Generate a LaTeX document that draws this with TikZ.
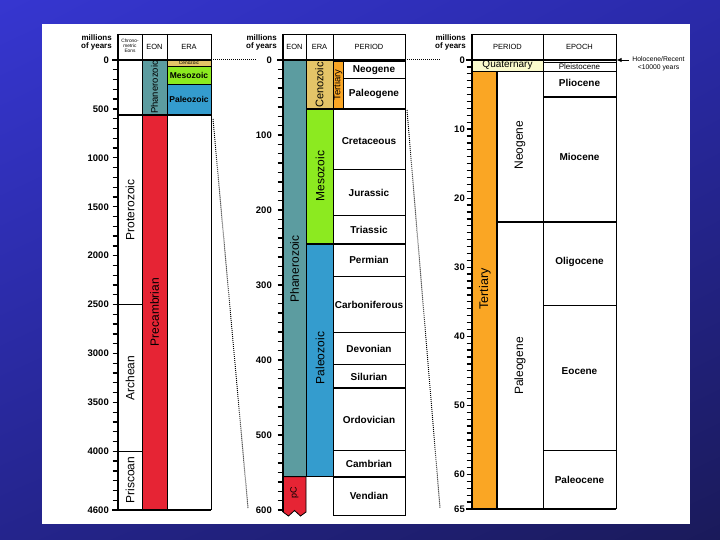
\documentclass[tikz,border=0pt]{standalone}
\usepackage{fontspec}
\setmainfont{Liberation Sans}
\usetikzlibrary{arrows.meta,shadings}
\definecolor{phan}{RGB}{92,156,160}
\definecolor{pcred}{RGB}{230,36,52}
\definecolor{ceno}{RGB}{228,196,104}
\definecolor{meso}{RGB}{140,234,32}
\definecolor{paleo}{RGB}{52,156,206}
\definecolor{tert}{RGB}{250,166,36}
\definecolor{quat}{RGB}{250,250,204}
\definecolor{bgA}{RGB}{54,54,208}
\definecolor{bgB}{RGB}{42,42,170}
\definecolor{bgC}{RGB}{36,36,140}
\definecolor{bgD}{RGB}{26,26,90}
\begin{document}
\begin{tikzpicture}[x=1pt,y=-1pt,
  tk/.style={line width=1.3pt},
  bx/.style={draw=black,line width=0.8pt},
  thk/.style={line width=1.8pt},
  num/.style={font=\fontsize{9.5}{10}\selectfont\bfseries,anchor=east,inner sep=0},
  hd/.style={font=\fontsize{7.5}{8.5}\selectfont,inner sep=0,align=center},
  my/.style={font=\fontsize{8}{8.5}\selectfont\bfseries,inner sep=0,align=right,anchor=east},
  rl/.style={font=\fontsize{12}{12}\selectfont,rotate=90,inner sep=0},
  pl/.style={font=\fontsize{10}{10}\selectfont\bfseries,inner sep=0},
  dot/.style={line width=1pt,dash pattern=on 0.9pt off 1.1pt}
]
\useasboundingbox (0,0) rectangle (720,540);
\shade[upper left=bgA,upper right=bgB,lower left=bgC,lower right=bgD] (0,0) rectangle (720,540);
\fill[white] (42,24) rectangle (690,524);

%% ---------------- LEFT CHART ----------------
\fill[phan] (142,60) rectangle (167,115);
\fill[pcred] (142,115) rectangle (167,510);
\fill[ceno] (167,60) rectangle (211,66.4);
\fill[meso] (167,66.4) rectangle (211,84.5);
\fill[paleo] (167,84.5) rectangle (211,115);
\draw[bx] (118,34) -- (211,34) -- (211,510);
\draw[bx] (142,34) -- (142,510) (167,34) -- (167,510);
\draw[bx] (167,66.4) -- (211,66.4) (167,84.5) -- (211,84.5);
\draw[bx] (118,304.6) -- (142,304.6) (118,451.3) -- (142,451.3);
\draw[thk] (112,60) -- (211,60);
\draw[thk] (118,115) -- (211,115);
\draw[thk] (112,510) -- (211,510);
\draw[tk] (118,34) -- (118,510);
\foreach \i in {0,...,46} \draw[tk] (112.5,{60+\i*9.7826}) -- (118,{60+\i*9.7826});
\foreach \v in {0,500,...,4000} \node[num] (L\v) at (109,{60+\v*0.097826}) {\v};
\node[num] (L4600) at (109,510) {4600};
\node[my] (Lmy) at (112,42.5) {millions\\of years};
\node[hd,font=\fontsize{4.8}{5}\selectfont] (Lchr) at (130,46) {Chrono-\\metric\\Eons};
\node[hd] (Leon) at (154.5,47) {EON};
\node[hd] (Lera) at (189,47) {ERA};
\node[hd,font=\fontsize{4.8}{5}\selectfont] (Lceno) at (189,63.2) {Cenozoic};
\node[pl,font=\fontsize{8.5}{9}\selectfont\bfseries] (Lmeso) at (189,75.5) {Mesozoic};
\node[pl,font=\fontsize{8.5}{9}\selectfont\bfseries] (Lpaleo) at (189,99.5) {Paleozoic};
\node[rl,font=\fontsize{9.5}{10}\selectfont] (Lphan) at (154.5,87.5) {Phanerozoic};
\node[rl] (Lprec) at (154.5,312) {Precambrian};
\node[rl] (Lprot) at (130,210) {Proterozoic};
\node[rl] (Larch) at (130,378) {Archean};
\node[rl] (Lpris) at (130,480) {Priscoan};

%% ---------------- MIDDLE CHART ----------------
\fill[phan] (283,60) rectangle (306,476.7);
\fill[ceno] (306,60) rectangle (333,108.75);
\fill[meso] (306,108.75) rectangle (333,244);
\fill[paleo] (306,244) rectangle (333,476.7);
\fill[tert] (333,61.5) rectangle (343,108.75);
\draw[bx,fill=pcred] (283,476.7) -- (306,476.7) -- (306,512) -- (300.5,516) -- (294.5,510.5) -- (288.5,516) -- (283,512) -- cycle;
\draw[bx] (283,34) -- (405,34);
\draw[bx] (306,34) -- (306,476.7);
\draw[bx] (333,34) -- (333,515) -- (405,515) -- (405,34);
\draw[bx] (333,61.5) -- (405,61.5) (343,61.5) -- (343,108.75) (343,78) -- (405,78);
\draw[thk] (306,108.75) -- (405,108.75);
\draw[bx] (333,169.5) -- (405,169.5) (333,215.7) -- (405,215.7);
\draw[thk] (306,244) -- (405,244);
\draw[bx] (333,276.7) -- (405,276.7) (333,332.7) -- (405,332.7) (333,364.3) -- (405,364.3);
\draw[thk] (333,387.7) -- (405,387.7);
\draw[bx] (333,450.7) -- (405,450.7);
\draw[bx] (283,476.7) -- (333,476.7);
\draw[thk] (333,476.7) -- (405,476.7);
\draw[thk] (277,60) -- (405,60);
\draw[tk] (283,34) -- (283,512);
\foreach \i in {0,...,48} \draw[tk] (277.5,{60+\i*9.375}) -- (283,{60+\i*9.375});
\foreach \v in {0,100,...,600} \node[num] (M\v) at (272,{60+\v*0.75}) {\v};
\node[my] (Mmy) at (277,42.5) {millions\\of years};
\node[hd] (Meon) at (294.5,47) {EON};
\node[hd] (Mera) at (319.5,47) {ERA};
\node[hd] (Mper) at (369,47) {PERIOD};
\node[rl,font=\fontsize{11}{11}\selectfont] (Mceno) at (319.5,85) {Cenozoic};
\node[rl,font=\fontsize{9.5}{10}\selectfont] (Mtert) at (338,85) {Tertiary};
\node[rl] (Mmeso) at (320,176) {Mesozoic};
\node[rl] (Mpaleo) at (320,358) {Paleozoic};
\node[rl] (Mphan) at (294.5,269) {Phanerozoic};
\node[rl,font=\fontsize{9}{9}\selectfont] (MpC) at (294.5,493) {pC};
\node[pl] (Mneo) at (374,70) {Neogene};
\node[pl] (Mpaleog) at (374,94) {Paleogene};
\node[pl] (Mcret) at (369,141) {Cretaceous};
\node[pl] (Mjur) at (369,193) {Jurassic};
\node[pl] (Mtri) at (369,230) {Triassic};
\node[pl] (Mperm) at (369,259.5) {Permian};
\node[pl] (Mcarb) at (369,305) {Carboniferous};
\node[pl] (Mdev) at (369,348.5) {Devonian};
\node[pl] (Msil) at (369,376.5) {Silurian};
\node[pl] (Mord) at (369,420) {Ordovician};
\node[pl] (Mcam) at (369,463.5) {Cambrian};
\node[pl] (Mven) at (369,496) {Vendian};

%% ---------------- RIGHT CHART ----------------
\fill[quat] (472,60) rectangle (543,71);
\fill[tert] (472,71) rectangle (497,509);
\draw[bx] (472,34) -- (616,34) -- (616,509);
\draw[bx] (543,34) -- (543,509);
\draw[thk] (497,71) -- (497,509);
\draw[bx] (472,71) -- (616,71) (543,62.3) -- (616,62.3);
\draw[thk] (543,96.7) -- (616,96.7);
\draw[thk] (497,221.7) -- (616,221.7);
\draw[bx] (543,305.7) -- (616,305.7) (543,450.7) -- (616,450.7);
\draw[thk] (466,60) -- (616,60);
\draw[thk] (466,509) -- (616,509);
\draw[tk] (472,34) -- (472,509);
\foreach \i in {0,...,65} \draw[tk] (466.5,{60+\i*6.9077}) -- (472,{60+\i*6.9077});
\foreach \v in {0,10,...,60} \node[num] (R\v) at (465,{60+\v*6.9077}) {\v};
\node[num] (R65) at (465,509) {65};
\node[my] (Rmy) at (466,42.5) {millions\\of years};
\node[hd] (Rper) at (507.5,47) {PERIOD};
\node[hd] (Repo) at (579.5,47) {EPOCH};
\node[inner sep=0,font=\fontsize{10}{10}\selectfont] (Rquat) at (507.5,65.5) {Quaternary};
\node[rl,font=\fontsize{12.5}{12.5}\selectfont] (Rtert) at (485,289) {Tertiary};
\node[rl] (Rneo) at (520,145) {Neogene};
\node[rl] (Rpaleog) at (520,366) {Paleogene};
\node[inner sep=0,font=\fontsize{8}{8}\selectfont] (Rplei) at (579.5,66.5) {Pleistocene};
\node[pl] (Rplio) at (579.5,83) {Pliocene};
\node[pl] (Rmio) at (579.5,157) {Miocene};
\node[pl] (Roli) at (579.5,262) {Oligocene};
\node[pl] (Reoc) at (579.5,371) {Eocene};
\node[pl] (Rpal) at (579.5,480) {Paleocene};
\node[inner sep=0,align=center,font=\fontsize{6.8}{8.5}\selectfont] (Rholo) at (658.5,63.5) {Holocene/Recent\\<10000 years};
\coordinate (arrS) at (629,60);
\coordinate (arrE) at (616.5,60);
\draw[line width=0.9pt,-{Latex[length=5pt,width=4.5pt]}] (arrS) -- (arrE);

%% ---------------- DOTTED LINKS ----------------
\coordinate (d1a) at (213,60);  \coordinate (d1b) at (256,60);
\coordinate (d2a) at (213,119); \coordinate (d2b) at (248,508);
\coordinate (d3a) at (407,60);  \coordinate (d3b) at (440,60);
\coordinate (d4a) at (407,110); \coordinate (d4b) at (440,508);
\draw[dot] (d1a) -- (d1b);
\draw[dot] (d2a) -- (d2b);
\draw[dot] (d3a) -- (d3b);
\draw[dot] (d4a) -- (d4b);
\end{tikzpicture}
\end{document}
